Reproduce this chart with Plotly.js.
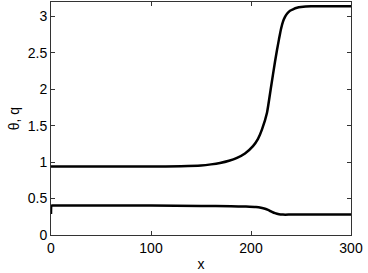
<!DOCTYPE html>
<html>
<head>
<meta charset="utf-8">
<script src="https://cdn.plot.ly/plotly-3.0.1.min.js"></script>
<style>html,body{margin:0;padding:0;background:#fff;}#chart{width:368px;height:273px;}</style>
</head>
<body>
<div id="chart"></div>
<script>
// theta curve
var thetaX = [0, 50, 100, 130, 150, 160, 169, 178, 186, 194, 202, 207, 211, 216, 220, 224, 226, 228, 230, 232, 234, 236, 239, 242, 246, 250, 260, 300];
var thetaY = [0.94, 0.94, 0.94, 0.945, 0.955, 0.97, 0.99, 1.02, 1.06, 1.12, 1.22, 1.32, 1.45, 1.68, 2.03, 2.38, 2.54, 2.69, 2.83, 2.93, 2.995, 3.04, 3.08, 3.10, 3.12, 3.13, 3.14, 3.14];
// q curve
var qX = [0, 0.6, 3, 50, 100, 150, 180, 195, 205, 210, 214, 217, 220, 224, 228, 232, 240, 300];
var qY = [0.29, 0.405, 0.405, 0.405, 0.405, 0.40, 0.395, 0.39, 0.383, 0.373, 0.36, 0.345, 0.325, 0.30, 0.285, 0.28, 0.28, 0.28];
var xTicks = [0, 100, 200, 300];
var yTicks = [0, 0.5, 1, 1.5, 2, 2.5, 3];
var yTickText = ['0', '0.5', '1', '1.5', '2', '2.5', '3'];

var data = [
  {x: thetaX, y: thetaY, mode: 'lines', line: {color: '#000', width: 2.5, shape: 'spline', smoothing: 0.5}, hoverinfo: 'skip'},
  {x: qX, y: qY, mode: 'lines', line: {color: '#000', width: 2.5, shape: 'spline', smoothing: 0.5}, hoverinfo: 'skip'}
];
var font = {family: 'Liberation Sans, Arial, sans-serif', size: 14, color: '#000'};
var layout = {
  width: 368, height: 273,
  margin: {l: 51, r: 17, t: 2, b: 38, pad: 0},
  paper_bgcolor: '#fff', plot_bgcolor: '#fff',
  showlegend: false,
  font: font,
  xaxis: {
    range: [0, 300], tickvals: xTicks, ticktext: xTicks.map(String),
    ticks: 'inside', ticklen: 4, tickcolor: '#333', tickwidth: 1,
    showline: true, linecolor: '#333', linewidth: 1, mirror: 'allticks',
    showgrid: false, zeroline: false, tickfont: font,
    title: {text: 'x', font: font, standoff: 4}
  },
  yaxis: {
    range: [0, 3.2], tickvals: yTicks, ticktext: yTickText,
    ticks: 'inside', ticklen: 4, tickcolor: '#333', tickwidth: 1,
    showline: true, linecolor: '#333', linewidth: 1, mirror: 'allticks',
    showgrid: false, zeroline: false, tickfont: font,
    title: {text: 'θ, q', font: font, standoff: 4}
  }
};
Plotly.newPlot('chart', data, layout, {staticPlot: true, displayModeBar: false});
</script>
</body>
</html>
